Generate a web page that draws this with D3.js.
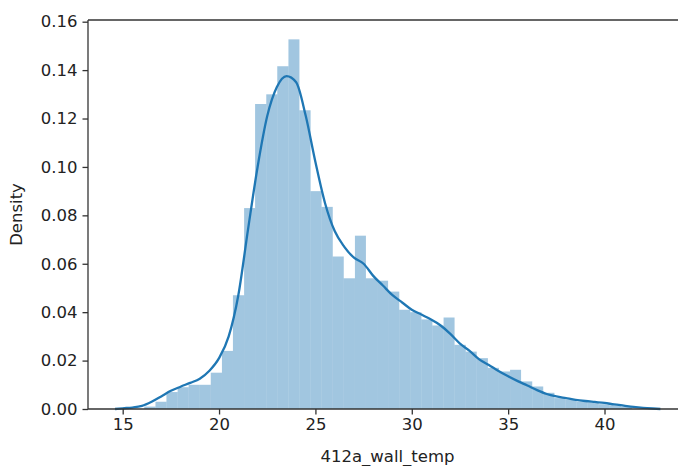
<!DOCTYPE html>
<html>
<head>
<meta charset="utf-8">
<script src="https://cdn.jsdelivr.net/npm/d3@7"></script>
<style>
    body { margin: 0; background: #fff; }
    #density-chart { width: 678px; height: 466px; overflow: hidden; }
    .tick text { font-family: 'DejaVu Sans', sans-serif; font-size: 16.5px; fill: #222; }
    .axis-title { font-family: 'DejaVu Sans', sans-serif; font-size: 16.5px; fill: #222; }
</style>
</head>
<body>
<div id="density-chart"></div>
<script>
// histogram bin edges (412a_wall_temp) and bar heights (density)
const binEdges = [16.12, 16.70, 17.27, 17.85, 18.42, 19.00, 19.57, 20.15, 20.72, 21.30,
    21.87, 22.45, 23.02, 23.60, 24.17, 24.75, 25.32, 25.90, 26.47, 27.05,
    27.62, 28.20, 28.77, 29.35, 29.92, 30.50, 31.07, 31.65, 32.22, 32.80,
    33.37, 33.95, 34.52, 35.10, 35.67, 36.25, 36.82, 37.40, 37.97, 38.55,
    39.12, 39.70, 40.27, 40.85, 41.42];
const binDensity = [0.001, 0.003, 0.007, 0.009, 0.010, 0.010, 0.015, 0.024, 0.047, 0.083,
    0.126, 0.130, 0.1416, 0.1527, 0.1234, 0.090, 0.0835, 0.063, 0.054, 0.0716,
    0.054, 0.053, 0.0485, 0.041, 0.040, 0.037, 0.0345, 0.0378, 0.0265, 0.0237,
    0.021, 0.017, 0.0155, 0.0162, 0.0114, 0.0093, 0.0067, 0.0045, 0.0038, 0.003,
    0.0027, 0.002, 0.0015, 0.001];

// kde curve
const kdeX = [14.6, 15, 15.5, 16, 16.5, 17, 17.5, 18, 18.5, 19, 19.5, 20, 20.5, 21, 21.5,
    22, 22.5, 23, 23.5, 24, 24.5, 25, 25.5, 26, 26.5, 27, 27.5, 28, 28.5, 29, 29.5,
    30, 30.5, 31, 31.5, 32, 32.5, 33, 33.5, 34, 34.5, 35, 35.5, 36, 36.5, 37, 37.5,
    38, 38.5, 39, 39.5, 40, 40.5, 41, 41.5, 42, 42.5, 42.9];
const kdeY = [0, 0.0003, 0.0006, 0.0013, 0.003, 0.0052, 0.0075, 0.0092, 0.0108, 0.0125, 0.0158, 0.021, 0.030, 0.047, 0.074,
    0.100, 0.121, 0.133, 0.1375, 0.135, 0.121, 0.102, 0.085, 0.0735, 0.067, 0.0625, 0.060, 0.055, 0.051, 0.047, 0.044,
    0.041, 0.039, 0.037, 0.0345, 0.031, 0.027, 0.024, 0.0205, 0.0182, 0.0157, 0.0135, 0.0115, 0.0097, 0.0078, 0.0062, 0.0052,
    0.0045, 0.0038, 0.0033, 0.0029, 0.0025, 0.0019, 0.0014, 0.0009, 0.0005, 0.0002, 0];

const xTicks = [15, 20, 25, 30, 35, 40];
const yTicks = [0, 0.02, 0.04, 0.06, 0.08, 0.10, 0.12, 0.14, 0.16];

const container = d3.select('#density-chart');

const margin = {top: 20, right: -9, bottom: 57, left: 88};
const fullWidth = 678, fullHeight = 466;
const width = fullWidth - margin.left - margin.right;
const height = fullHeight - margin.top - margin.bottom;

const svg = container.append('svg')
    .attr('width', fullWidth)
    .attr('height', fullHeight)
    .append('g')
    .attr('transform', `translate(${margin.left},${margin.top})`);

const x = d3.scaleLinear()
    .domain([13.2, 44.28])
    .range([0, width]);

const y = d3.scaleLinear()
    .domain([0, 0.1607])
    .range([height, 0]);

const blue = '#1f77b4';

// bars
const bins = binDensity.map((d, i) => ({x0: binEdges[i], x1: binEdges[i + 1], value: d}));
svg.selectAll('.bar')
    .data(bins)
    .join('rect')
    .attr('class', 'bar')
    .attr('x', d => x(d.x0))
    .attr('y', d => y(d.value))
    .attr('width', d => x(d.x1) - x(d.x0))
    .attr('height', d => height - y(d.value))
    .attr('fill', blue)
    .attr('fill-opacity', 0.42);

// kde line
const kde = kdeX.map((d, i) => [d, kdeY[i]]);
svg.append('path')
    .datum(kde)
    .attr('fill', 'none')
    .attr('stroke', blue)
    .attr('stroke-width', 2.3)
    .attr('stroke-linejoin', 'round')
    .attr('d', d3.line()
        .x(d => x(d[0]))
        .y(d => y(d[1]))
        .curve(d3.curveMonotoneX));

// axes, matplotlib-ish
const xAxis = svg.append('g')
    .attr('transform', `translate(0,${height})`)
    .call(d3.axisBottom(x).tickValues(xTicks).tickSize(5.5).tickPadding(4).tickFormat(d3.format('d')));

const yAxis = svg.append('g')
    .call(d3.axisLeft(y).tickValues(yTicks).tickSize(5.5).tickPadding(5).tickFormat(d3.format('.2f')));

[xAxis, yAxis].forEach(g => {
    g.select('.domain').remove();
    g.selectAll('.tick line').attr('stroke', '#333').attr('stroke-width', 1.3);
});

// spines
const spine = {stroke: '#333', width: 1.3};
svg.append('line').attr('x1', 0).attr('x2', 0).attr('y1', 0).attr('y2', height)
    .attr('stroke', spine.stroke).attr('stroke-width', spine.width);
svg.append('line').attr('x1', 0).attr('x2', width).attr('y1', height).attr('y2', height)
    .attr('stroke', spine.stroke).attr('stroke-width', spine.width);
svg.append('line').attr('x1', 0).attr('x2', width).attr('y1', 0).attr('y2', 0)
    .attr('stroke', spine.stroke).attr('stroke-width', spine.width);
svg.append('line').attr('x1', width).attr('x2', width).attr('y1', 0).attr('y2', height)
    .attr('stroke', spine.stroke).attr('stroke-width', spine.width);

svg.append('text')
    .attr('class', 'axis-title')
    .attr('text-anchor', 'middle')
    .attr('x', width / 2)
    .attr('y', height + 53)
    .text('412a_wall_temp');

svg.append('text')
    .attr('class', 'axis-title')
    .attr('text-anchor', 'middle')
    .attr('transform', 'rotate(-90)')
    .attr('x', -height / 2)
    .attr('y', -66)
    .text('Density');
</script>
</body>
</html>
